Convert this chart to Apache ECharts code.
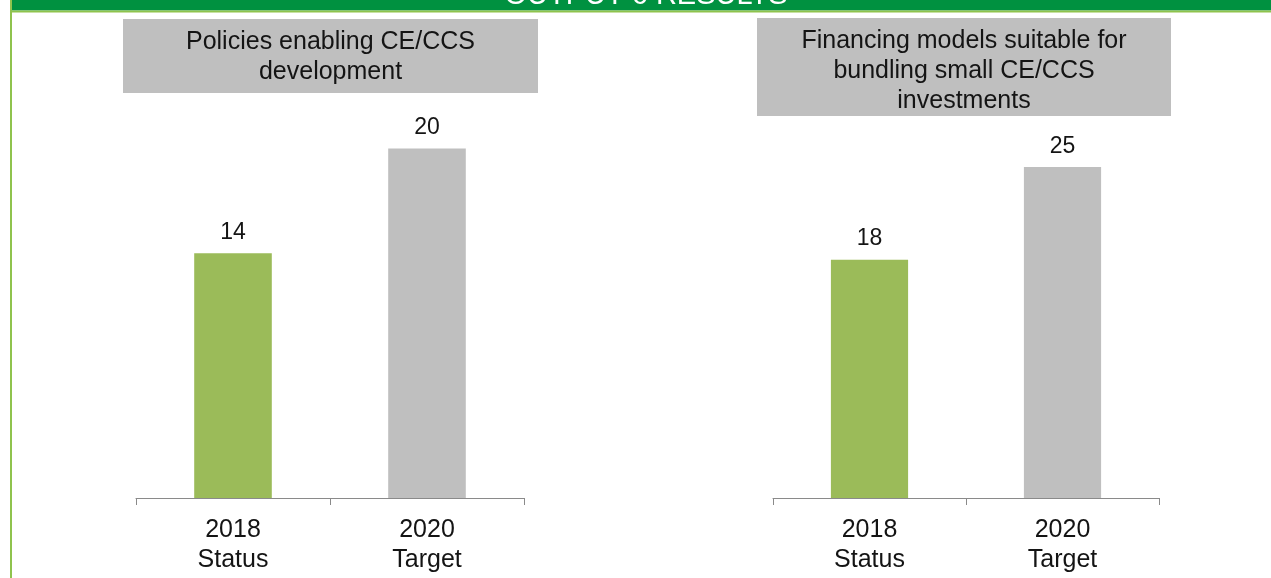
<!DOCTYPE html>
<html>
<head>
<meta charset="utf-8">
<script src="https://cdn.jsdelivr.net/npm/echarts@6/dist/echarts.min.js"></script>
<style>
  html, body { margin: 0; padding: 0; background: #ffffff; }
  #chart { width: 1271px; height: 578px; }
</style>
</head>
<body>
<div id="chart"></div>
<script>
// Panel data
const headerText = 'OUTPUT 6 RESULTS';
const categories = ['2018\nStatus', '2020\nTarget'];
const policiesTitle = 'Policies enabling CE/CCS\ndevelopment';
const policiesValues = [14, 20];
const financingTitle = 'Financing models suitable for\nbundling small CE/CCS\ninvestments';
const financingValues = [18, 25];
const barColors = ['#9BBB59', '#BFBFBF'];

const FONT = "'Liberation Sans', Arial, sans-serif";
const TEXT = '#141414';
const AXIS = '#8a8a8a';

const chart = echarts.init(document.getElementById('chart'), null, { renderer: 'canvas' });

function xAxisFor(gridIndex) {
  return {
    type: 'category',
    gridIndex: gridIndex,
    data: categories,
    axisLine: { show: true, lineStyle: { color: AXIS, width: 1 } },
    axisTick: { show: true, length: 7, lineStyle: { color: AXIS, width: 1 } },
    axisLabel: {
      interval: 0, margin: 17, color: TEXT,
      fontFamily: FONT, fontSize: 25, lineHeight: 30
    },
    splitLine: { show: false }
  };
}

function yAxisFor(gridIndex, max) {
  return {
    type: 'value', gridIndex: gridIndex, min: 0, max: max,
    show: false, splitLine: { show: false }
  };
}

function barSeries(index, values) {
  return {
    type: 'bar',
    xAxisIndex: index,
    yAxisIndex: index,
    barWidth: '40%',
    data: values.map((v, i) => ({ value: v, itemStyle: { color: barColors[i] } })),
    label: {
      show: true, position: 'top', distance: 9,
      color: TEXT, fontFamily: FONT, fontSize: 23, lineHeight: 23
    },
    emphasis: { disabled: true },
    animation: false
  };
}

function titleBox(x, y, w, h, text) {
  return [
    { type: 'rect', shape: { x: x, y: y, width: w, height: h }, style: { fill: '#BFBFBF' }, z: 1 },
    {
      type: 'text', x: x + w / 2, y: y + 8, z: 2,
      style: {
        text: text, fill: TEXT, font: '25px ' + FONT,
        align: 'center', verticalAlign: 'top', lineHeight: 30
      }
    }
  ];
}

const option = {
  backgroundColor: '#ffffff',
  animation: false,
  grid: [
    { left: 136, width: 388, top: 61, bottom: 80 },
    { left: 773, width: 386, top: 61, bottom: 80 }
  ],
  xAxis: [xAxisFor(0), xAxisFor(1)],
  yAxis: [yAxisFor(0, 25), yAxisFor(1, 33)],
  series: [barSeries(0, policiesValues), barSeries(1, financingValues)],
  graphic: [
    // page frame: header band, its lime rule, and the left border
    { type: 'rect', shape: { x: 12, y: 0, width: 1259, height: 10.5 }, style: { fill: '#009140' }, z: 5 },
    { type: 'rect', shape: { x: 12, y: 10.5, width: 1259, height: 2 }, style: { fill: '#8FC34D' }, z: 5 },
    { type: 'rect', shape: { x: 10, y: 0, width: 2, height: 578 }, style: { fill: '#8FC34D' }, z: 5 },
    {
      type: 'text', x: 646, y: -4.5, z: 6,
      style: {
        text: headerText, fill: '#ffffff', font: '29px ' + FONT,
        align: 'center', verticalAlign: 'middle'
      }
    },
    ...titleBox(123, 19, 415, 74, policiesTitle),
    ...titleBox(757, 18, 414, 98, financingTitle)
  ]
};

chart.setOption(option);
</script>
</body>
</html>
